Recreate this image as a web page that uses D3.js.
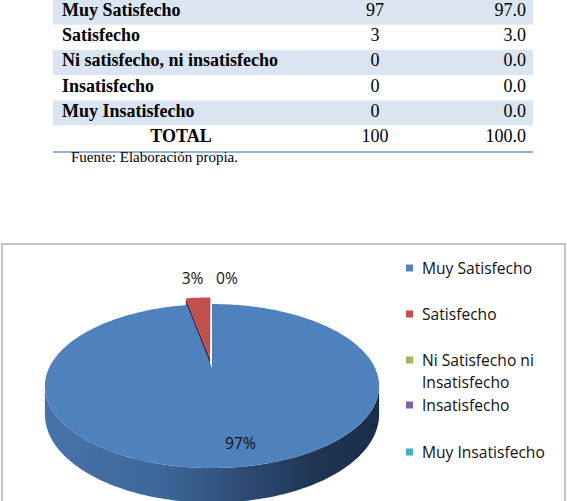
<!DOCTYPE html>
<html>
<head>
<meta charset="utf-8">
<script src="https://cdn.jsdelivr.net/npm/d3@7"></script>
<style>
  body { margin: 0; background: #fff; }
  svg { display: block; }
</style>
</head>
<body>
<div id="chart"></div>
<script>
// Table data
var categorias = ["Muy Satisfecho", "Satisfecho", "Ni satisfecho, ni insatisfecho", "Insatisfecho", "Muy Insatisfecho"];
var frecuencias = [97, 3, 0, 0, 0];
var porcentajes = [97.0, 3.0, 0.0, 0.0, 0.0];
var totalLabel = "TOTAL";
var fuente = "Fuente: Elaboración propia.";

// Pie chart data
var leyenda = ["Muy Satisfecho", "Satisfecho", "Ni Satisfecho ni|Insatisfecho", "Insatisfecho", "Muy Insatisfecho"];
var colores = ["#4F81BD", "#C0504D", "#9BBB59", "#8064A2", "#4BACC6"];

var W = 567, H = 501;
var svg = d3.select("#chart").append("svg")
  .attr("width", W).attr("height", H);

// ----------------------------------------------------------------
// TABLE
// ----------------------------------------------------------------
var rowH = 25.2, tableTop = -0.5, tLeft = 53, tRight = 533;
var rows = svg.append("g");
categorias.forEach(function(c, i) {
  var y0 = tableTop + i * rowH;
  if (i % 2 === 0) {
    rows.append("rect").attr("x", tLeft).attr("y", y0)
      .attr("width", tRight - tLeft).attr("height", rowH)
      .attr("fill", "#dbe5f1");
  }
  var base = y0 + 16.5;
  rows.append("text").attr("x", 62).attr("y", base)
    .style("font", "bold 18px 'Liberation Serif', 'Times New Roman', serif")
    .text(c);
  rows.append("text").attr("x", 375).attr("y", base)
    .attr("text-anchor", "middle")
    .style("font", "18px 'Liberation Serif', serif")
    .text(frecuencias[i]);
  rows.append("text").attr("x", 526).attr("y", base)
    .attr("text-anchor", "end")
    .style("font", "18px 'Liberation Serif', serif")
    .text(porcentajes[i].toFixed(1));
});
var totBase = tableTop + 5 * rowH + 16.5;
rows.append("text").attr("x", 181).attr("y", totBase).attr("text-anchor", "middle")
  .style("font", "bold 18px 'Liberation Serif', serif").text(totalLabel);
rows.append("text").attr("x", 375).attr("y", totBase).attr("text-anchor", "middle")
  .style("font", "18px 'Liberation Serif', serif").text(d3.sum(frecuencias));
rows.append("text").attr("x", 526).attr("y", totBase).attr("text-anchor", "end")
  .style("font", "18px 'Liberation Serif', serif").text(d3.sum(porcentajes).toFixed(1));
rows.append("line").attr("x1", tLeft).attr("x2", tRight).attr("y1", 152).attr("y2", 152)
  .attr("stroke", "#95b3d7").attr("stroke-width", 2);
svg.append("text").attr("x", 71).attr("y", 162)
  .style("font", "15px 'Liberation Serif', serif").text(fuente);

// ----------------------------------------------------------------
// CHART FRAME
// ----------------------------------------------------------------
svg.append("rect").attr("x", 2).attr("y", 244).attr("width", 563).attr("height", 300)
  .attr("fill", "none").attr("stroke", "#bdbdbd").attr("stroke-width", 1.8);

// ----------------------------------------------------------------
// 3D PIE (simple perspective projection of a unit disk)
// ----------------------------------------------------------------
var cx = 212, cy0 = 368, A = 163, B = 78, t = 0.22, Hd = 27, explode = 0.13;

function proj(u, v, h) {
  var z = 1 + t * v;
  return [cx + A * u / z, cy0 + (-B * v + Hd * h) / z];
}
function arcPts(a0, a1, off, h) {
  var n = Math.max(2, Math.ceil(Math.abs(a1 - a0) / 0.02));
  var pts = [];
  for (var k = 0; k <= n; k++) {
    var a = a0 + (a1 - a0) * k / n;
    pts.push(proj(Math.sin(a) + off[0], Math.cos(a) + off[1], h));
  }
  return pts;
}
var line = d3.line().curve(d3.curveLinearClosed);

var pie = d3.pie().sort(null).value(function(d) { return d; })
  .startAngle(0).endAngle(2 * Math.PI);
var slices = pie(frecuencias);
var total = d3.sum(frecuencias);

var defs = svg.append("defs");
var grad = defs.append("linearGradient").attr("id", "wallBlue")
  .attr("gradientUnits", "userSpaceOnUse")
  .attr("x1", 45).attr("x2", 380).attr("y1", 0).attr("y2", 0);
grad.append("stop").attr("offset", 0).attr("stop-color", "#4673aa");
grad.append("stop").attr("offset", 0.35).attr("stop-color", "#3d6798");
grad.append("stop").attr("offset", 0.6).attr("stop-color", "#2d4b73");
grad.append("stop").attr("offset", 0.8).attr("stop-color", "#1f3553");
grad.append("stop").attr("offset", 1).attr("stop-color", "#1b2e48");

var aL = Math.PI / 2 + Math.asin(t), aR = 3 * Math.PI / 2 - Math.asin(t);
var pieG = svg.append("g");

slices.forEach(function(s, i) {
  if (s.endAngle - s.startAngle <= 0) return;
  var mid = (s.startAngle + s.endAngle) / 2;
  var off = i === 0 ? [0, 0] : [explode * Math.sin(mid), explode * Math.cos(mid)];
  s.off = off;
  // outer wall (front part)
  var w0 = Math.max(s.startAngle, aL), w1 = Math.min(s.endAngle, aR);
  if (w1 > w0) {
    var top = arcPts(w0, w1, off, 0);
    var bot = arcPts(w0, w1, off, 1).reverse();
    pieG.append("path").attr("d", line(top.concat(bot)))
      .attr("fill", i === 0 ? "url(#wallBlue)" : d3.color(colores[i]).darker(1.2));
  }
  // radial side face of the exploded slice
  if (i !== 0) {
    var c0 = proj(off[0], off[1], 0), c1 = proj(off[0], off[1], 1);
    var o0 = proj(Math.sin(s.startAngle) + off[0], Math.cos(s.startAngle) + off[1], 0);
    var o1 = proj(Math.sin(s.startAngle) + off[0], Math.cos(s.startAngle) + off[1], 1);
    pieG.append("path").attr("d", line([c0, o0, o1, c1])).attr("fill", "#5e2524");
  }
});
slices.forEach(function(s, i) {
  if (s.endAngle - s.startAngle <= 0) return;
  var off = s.off;
  var pts = [proj(off[0], off[1], 0)].concat(arcPts(s.startAngle, s.endAngle, off, 0));
  pieG.append("path").attr("d", line(pts)).attr("fill", colores[i]);
});

// data labels
var lblFont = "15.6px 'Open Sans', 'Noto Sans', sans-serif";
var txtCol = "#111";
// big slice label inside
var s0 = slices[0], m0 = (s0.startAngle + s0.endAngle) / 2;
var p0 = proj(0.78 * Math.sin(m0), 0.78 * Math.cos(m0), 0);
pieG.append("text").attr("x", p0[0] + 14).attr("y", p0[1] + 8)
  .attr("text-anchor", "middle").style("font", lblFont).attr("fill", txtCol)
  .text(Math.round(frecuencias[0] / total * 100) + "%");
// small slice label (left of the top)
var s1 = slices[1], m1 = (s1.startAngle + s1.endAngle) / 2;
var p1 = proj(1.3 * Math.sin(m1), 1.3 * Math.cos(m1), 0);
pieG.append("text").attr("x", p1[0] + 7).attr("y", p1[1] - 5)
  .attr("text-anchor", "end").style("font", lblFont).attr("fill", txtCol)
  .text(Math.round(frecuencias[1] / total * 100) + "%");
// zero slices share one spot at the top
var p2 = proj(0, 1.3, 0);
pieG.append("text").attr("x", p2[0] + 4).attr("y", p2[1] - 5)
  .attr("text-anchor", "start").style("font", lblFont).attr("fill", txtCol)
  .text(Math.round(frecuencias[2] / total * 100) + "%");

// ----------------------------------------------------------------
// LEGEND
// ----------------------------------------------------------------
var legY = [268, 314, 360, 405, 452];
var leg = svg.append("g");
leyenda.forEach(function(l, i) {
  leg.append("rect").attr("x", 406).attr("y", legY[i] - 3.5)
    .attr("width", 7).attr("height", 7).attr("fill", colores[i]);
  l.split("|").forEach(function(part, j) {
    leg.append("text").attr("x", 422).attr("y", legY[i] + 5.5 + j * 22.5)
      .style("font", lblFont).attr("fill", txtCol).text(part);
  });
});
</script>
</body>
</html>
